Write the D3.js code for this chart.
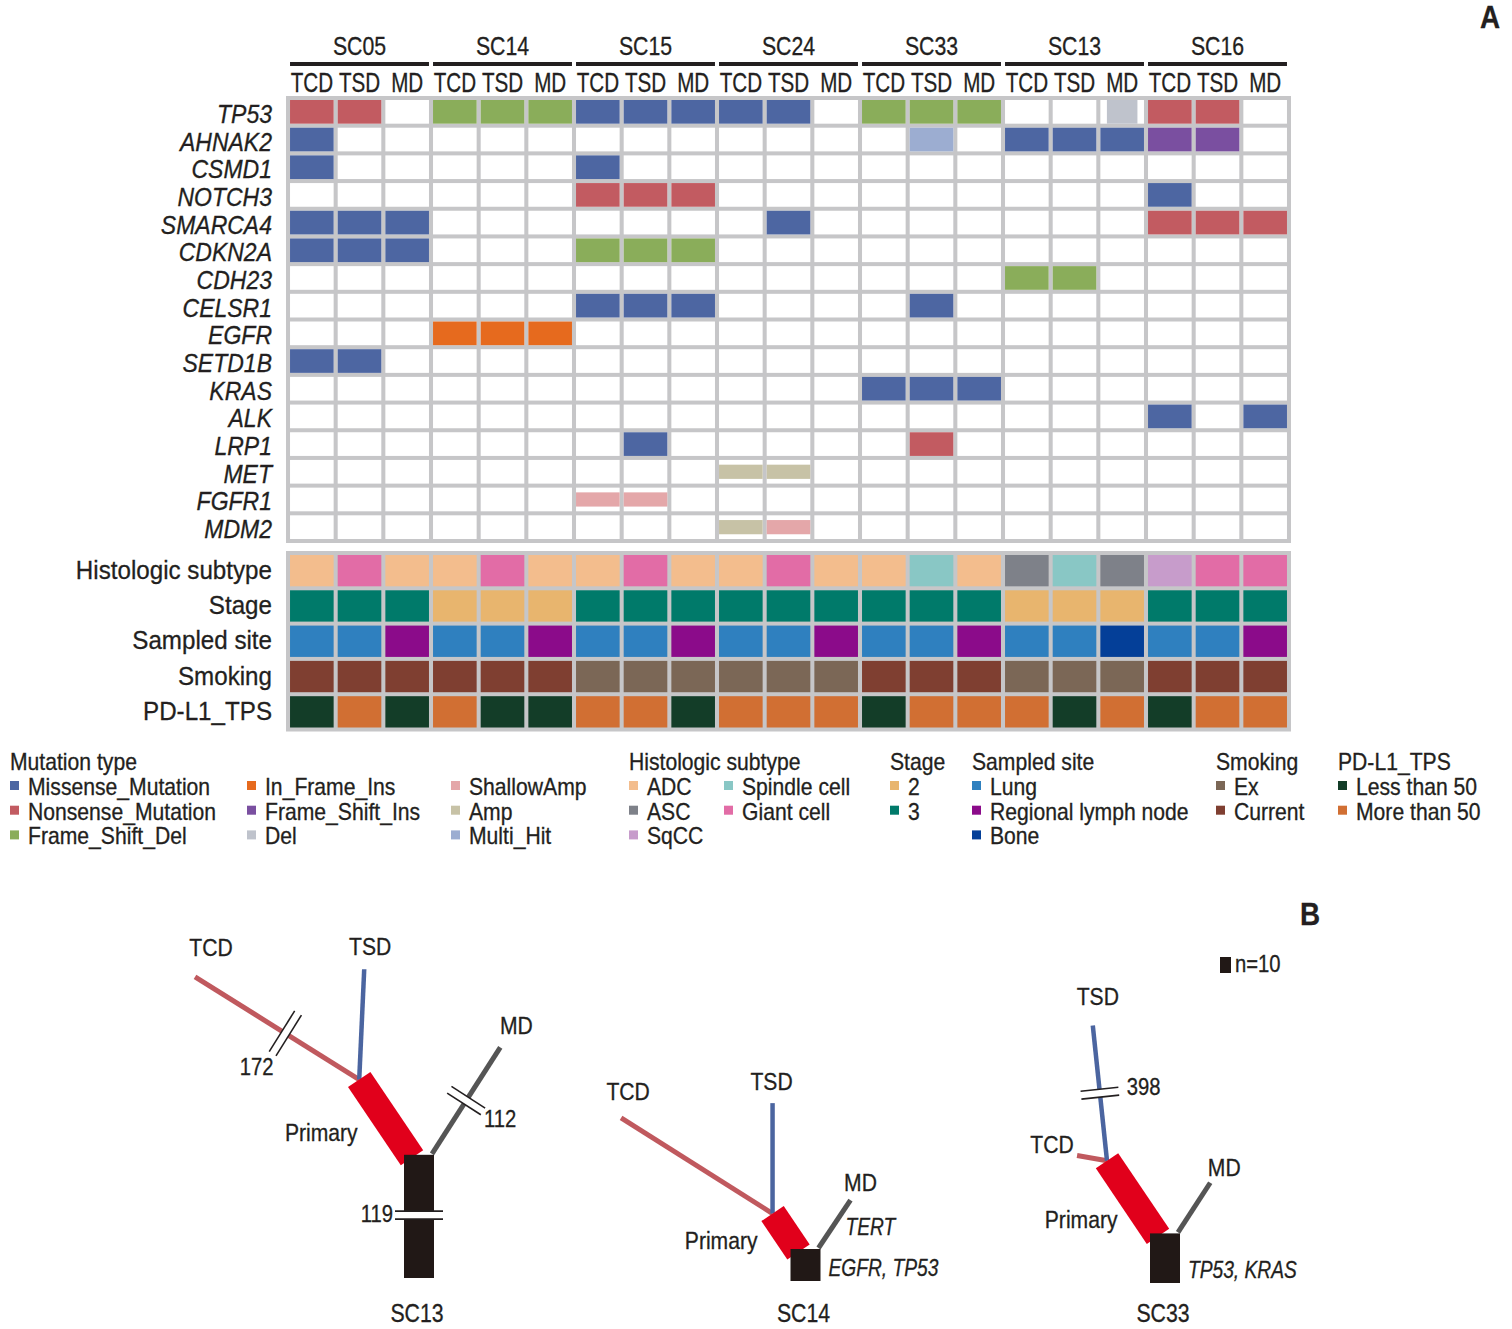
<!DOCTYPE html>
<html>
<head>
<meta charset="utf-8">
<script src="https://cdn.jsdelivr.net/npm/d3@7"></script>
<style>
body { margin: 0; background: #fff; }
svg text { font-family: "Liberation Sans", Arial, sans-serif; fill: #231f20; stroke: #231f20; stroke-width: 0.3px; }
</style>
</head>
<body>
<svg id="fig" width="1512" height="1329"></svg>
<script>
// ---- data ----
var patients = ["SC05", "SC14", "SC15", "SC24", "SC33", "SC13", "SC16"];
var regions = ["TCD", "TSD", "MD"];
var genes = ["TP53", "AHNAK2", "CSMD1", "NOTCH3", "SMARCA4", "CDKN2A", "CDH23", "CELSR1",
             "EGFR", "SETD1B", "KRAS", "ALK", "LRP1", "MET", "FGFR1", "MDM2"];

// mutation type codes
var mutCodes  = ["M", "N", "D", "I", "F", "X", "S", "A", "H"];
var mutTypes  = ["Missense_Mutation", "Nonsense_Mutation", "Frame_Shift_Del", "In_Frame_Ins",
                 "Frame_Shift_Ins", "Del", "ShallowAmp", "Amp", "Multi_Hit"];
var mutColors = ["#4d66a2", "#c25b61", "#8aad5a", "#e66a1e", "#7a4fa0", "#bfc3cc", "#e4a7a9", "#c7c2a6", "#9cadd1"];

// one string per gene, 21 samples: SC05 TCD TSD MD | SC14 ... | SC16   ("." = none)
var mutationCalls = [
  "N N .  D D D  M M M  M M .  D D D  . . X  N N .",   // TP53
  "M . .  . . .  . . .  . . .  . H .  M M M  F F .",   // AHNAK2
  "M . .  . . .  M . .  . . .  . . .  . . .  . . .",   // CSMD1
  ". . .  . . .  N N N  . . .  . . .  . . .  M . .",   // NOTCH3
  "M M M  . . .  . . .  . M .  . . .  . . .  N N N",   // SMARCA4
  "M M M  . . .  D D D  . . .  . . .  . . .  . . .",   // CDKN2A
  ". . .  . . .  . . .  . . .  . . .  D D .  . . .",   // CDH23
  ". . .  . . .  M M M  . . .  . M .  . . .  . . .",   // CELSR1
  ". . .  I I I  . . .  . . .  . . .  . . .  . . .",   // EGFR
  "M M .  . . .  . . .  . . .  . . .  . . .  . . .",   // SETD1B
  ". . .  . . .  . . .  . . .  M M M  . . .  . . .",   // KRAS
  ". . .  . . .  . . .  . . .  . . .  . . .  M . M",   // ALK
  ". . .  . . .  . M .  . . .  . N .  . . .  . . .",   // LRP1
  ". . .  . . .  . . .  A A .  . . .  . . .  . . .",   // MET
  ". . .  . . .  S S .  . . .  . . .  . . .  . . .",   // FGFR1
  ". . .  . . .  . . .  A S .  . . .  . . .  . . ."    // MDM2
];

var annoRows = ["Histologic subtype", "Stage", "Sampled site", "Smoking", "PD-L1_TPS"];

var histoTypes  = ["ADC", "ASC", "SqCC", "Spindle cell", "Giant cell"];
var histoColors = ["#f3bd8d", "#7e8189", "#c79ccb", "#89c7c5", "#e26ca6"];
var stageTypes  = ["2", "3"];
var stageColors = ["#e8b56e", "#007a6a"];
var siteTypes   = ["Lung", "Regional lymph node", "Bone"];
var siteColors  = ["#2f80bf", "#8b0b8a", "#043f98"];
var smokeTypes  = ["Ex", "Current"];
var smokeColors = ["#7b6756", "#7f3f31"];
var pdl1Types   = ["Less than 50", "More than 50"];
var pdl1Colors  = ["#133d28", "#d16f33"];

var histologic = ["ADC", "Giant cell", "ADC",  "ADC", "Giant cell", "ADC",  "ADC", "Giant cell", "ADC",
                  "ADC", "Giant cell", "ADC",  "ADC", "Spindle cell", "ADC",  "ASC", "Spindle cell", "ASC",
                  "SqCC", "Giant cell", "Giant cell"];
var stage   = ["3","3","3", "2","2","2", "3","3","3", "3","3","3", "3","3","3", "2","2","2", "3","3","3"];
var site    = ["Lung","Lung","Regional lymph node", "Lung","Lung","Regional lymph node",
               "Lung","Lung","Regional lymph node", "Lung","Lung","Regional lymph node",
               "Lung","Lung","Regional lymph node", "Lung","Lung","Bone",
               "Lung","Lung","Regional lymph node"];
var smoking = ["Current","Current","Current", "Current","Current","Current", "Ex","Ex","Ex",
               "Ex","Ex","Ex", "Current","Current","Current", "Ex","Ex","Ex", "Current","Current","Current"];
var pdl1    = ["Less than 50","More than 50","Less than 50", "More than 50","Less than 50","Less than 50",
               "More than 50","More than 50","Less than 50", "More than 50","More than 50","More than 50",
               "Less than 50","More than 50","More than 50", "More than 50","Less than 50","More than 50",
               "Less than 50","More than 50","More than 50"];

// phylogenetic trees (number of mutations per branch)
var trees     = ["SC13", "SC14", "SC33"];
var trunkN    = [119, 20, 31];
var primaryN  = [59, 29, 57];
var tcdN      = [172, 112, 19];
var tsdN      = [69, 69, 398];
var mdN       = [112, 36, 37];
// broken branches are drawn shorter: mutations shown (null = drawn to scale)
var trunkShownN = [77, null, null];
var tcdShownN   = [121, null, null];
var tsdShownN   = [null, null, 85];
var mdShownN    = [79, null, null];
var trunkGenes  = ["", "EGFR, TP53", "TP53, KRAS"];
var mdGenes     = ["", "TERT", ""];

// ---- drawing ----
var svg = d3.select("#fig");
var ink = "#231f20";
var gridGray = "#c6c6c8";

function label(g, x, y, str, o) {
  o = o || {};
  return g.append("text")
    .attr("transform", "translate(" + x + "," + y + ") scale(" + (o.sx || 0.88) + ",1)")
    .attr("text-anchor", o.anchor || "start")
    .style("font-size", (o.size || 24) + "px")
    .style("font-style", o.italic ? "italic" : null)
    .style("font-weight", o.bold ? "bold" : null)
    .text(str);
}

var samples = [];
patients.forEach(function(p) {
  regions.forEach(function(r) { samples.push(p + "_" + r); });
});

var x = d3.scaleBand().domain(samples).range([288, 1289]).paddingInner(0.085).paddingOuter(0.0425);
var yMut = d3.scaleBand().domain(genes).range([98, 541]).paddingInner(0.145).paddingOuter(0.0725);
var yAnno = d3.scaleBand().domain(annoRows).range([553, 729.5]).paddingInner(0.113).paddingOuter(0.0565);
var mutColor = d3.scaleOrdinal().domain(mutCodes).range(mutColors);

// panel label
label(svg, 1480, 28, "A", {size: 32, bold: true, sx: 0.87});

// patient headers
var head = svg.append("g");
patients.forEach(function(p) {
  var x0 = x(p + "_TCD"), x1 = x(p + "_MD") + x.bandwidth();
  label(head, (x0 + x1) / 2, 55, p, {size: 25, anchor: "middle", sx: 0.85});
  head.append("rect").attr("x", x0).attr("y", 62).attr("width", x1 - x0).attr("height", 4).attr("fill", ink);
  regions.forEach(function(r) {
    label(head, x(p + "_" + r) + x.bandwidth() / 2, 92, r, {size: 27.5, anchor: "middle", sx: 0.75});
  });
});

// mutation grid
var grid = svg.append("g");
grid.append("rect")
  .attr("x", x.range()[0] - 2).attr("y", yMut.range()[0] - 2)
  .attr("width", x.range()[1] - x.range()[0] + 4).attr("height", yMut.range()[1] - yMut.range()[0] + 4)
  .attr("fill", gridGray);

var cells = [];
genes.forEach(function(g, gi) {
  var calls = mutationCalls[gi].trim().split(/\s+/);
  samples.forEach(function(s, si) { cells.push({gene: g, sample: s, code: calls[si]}); });
});

grid.selectAll("rect.bg").data(cells).join("rect")
  .attr("class", "bg")
  .attr("x", function(d) { return x(d.sample); })
  .attr("y", function(d) { return yMut(d.gene); })
  .attr("width", x.bandwidth()).attr("height", yMut.bandwidth())
  .attr("fill", "#fff");

var bw = x.bandwidth(), bh = yMut.bandwidth();
function isAmp(c) { return c === "A" || c === "S"; }
grid.selectAll("rect.mut").data(cells.filter(function(d) { return d.code !== "."; })).join("rect")
  .attr("class", "mut")
  .attr("x", function(d) { return x(d.sample) + (d.code === "X" ? bw * 0.15 : 0); })
  .attr("y", function(d) { return yMut(d.gene) + (isAmp(d.code) ? bh * 0.2 : 0); })
  .attr("width", function(d) { return d.code === "X" ? bw * 0.7 : bw; })
  .attr("height", function(d) { return isAmp(d.code) ? bh * 0.6 : bh; })
  .attr("fill", function(d) { return mutColor(d.code); });

// gene labels
genes.forEach(function(g) {
  label(svg, 272, yMut(g) + bh / 2 + 11, g, {size: 25, italic: true, anchor: "end", sx: 0.92});
});

// annotation block
var anno = svg.append("g");
anno.append("rect")
  .attr("x", x.range()[0] - 2).attr("y", yAnno.range()[0] - 2)
  .attr("width", x.range()[1] - x.range()[0] + 4).attr("height", yAnno.range()[1] - yAnno.range()[0] + 4)
  .attr("fill", gridGray);

var annoValues = [histologic, stage, site, smoking, pdl1];
var annoScales = [
  d3.scaleOrdinal().domain(histoTypes).range(histoColors),
  d3.scaleOrdinal().domain(stageTypes).range(stageColors),
  d3.scaleOrdinal().domain(siteTypes).range(siteColors),
  d3.scaleOrdinal().domain(smokeTypes).range(smokeColors),
  d3.scaleOrdinal().domain(pdl1Types).range(pdl1Colors)
];
annoRows.forEach(function(row, ri) {
  anno.selectAll("rect.r" + ri).data(annoValues[ri]).join("rect")
    .attr("class", "r" + ri)
    .attr("x", function(d, i) { return x(samples[i]); })
    .attr("y", yAnno(row))
    .attr("width", bw).attr("height", yAnno.bandwidth())
    .attr("fill", function(d) { return annoScales[ri](d); });
  label(svg, 272, yAnno(row) + yAnno.bandwidth() / 2 + 8, row, {size: 26, anchor: "end", sx: 0.93});
});

// legends
var legends = [
  {title: "Mutation type", xs: [10, 247, 451], items: mutTypes, colors: mutColors},
  {title: "Histologic subtype", xs: [629, 724], items: histoTypes, colors: histoColors},
  {title: "Stage", xs: [890], items: stageTypes, colors: stageColors},
  {title: "Sampled site", xs: [972], items: siteTypes, colors: siteColors},
  {title: "Smoking", xs: [1216], items: smokeTypes, colors: smokeColors},
  {title: "PD-L1_TPS", xs: [1338], items: pdl1Types, colors: pdl1Colors}
];
var leg = svg.append("g");
legends.forEach(function(L) {
  label(leg, L.xs[0], 770, L.title, {size: 23, sx: 0.92});
  L.items.forEach(function(it, i) {
    var lx = L.xs[Math.floor(i / 3)], ly = 795 + (i % 3) * 24.7;
    leg.append("rect").attr("x", lx).attr("y", ly - 14).attr("width", 9).attr("height", 9).attr("fill", L.colors[i]);
    label(leg, lx + 18, ly, it, {size: 23, sx: 0.92});
  });
});

// ---- panel B: trees ----
var len = d3.scaleLinear().domain([0, 10]).range([0, 16]);
var rad = Math.PI / 180;
function dir(a) { return [Math.sin(a * rad), -Math.cos(a * rad)]; }
function along(p, a, l) { var d = dir(a); return [p[0] + d[0] * l, p[1] + d[1] * l]; }

var B = svg.append("g");
label(B, 1300, 925, "B", {size: 32, bold: true, sx: 0.87});
B.append("rect").attr("x", 1220).attr("y", 957).attr("width", 11).attr("height", len(10)).attr("fill", "#211816");
label(B, 1235, 972, "n=10", {size: 23, sx: 0.88});

var treeBase   = [[419, 1278], [805.5, 1281], [1165, 1283]];
var tcdAngle   = [-58, -57.7, -80];
var tsdAngle   = [2.6, 0, -6];
var mdAngle    = [32.7, 33.7, 33];
var primAngle  = -34;
var tcdLabOff  = [[16, -21], [7, -18], [-25, -3]];
var tsdLabOff  = [[6, -14], [-1, -13], [5, -21]];
var mdLabOff   = [[16, -13], [10, -9], [14, -7]];
var primLabOff = [[-28, 22], [-28, 16], [-15, 29]];

function branch(g, p0, a, l, color, w) {
  var p1 = along(p0, a, l);
  g.append("line").attr("x1", p0[0]).attr("y1", p0[1]).attr("x2", p1[0]).attr("y2", p1[1])
    .attr("stroke", color).attr("stroke-width", w);
  return p1;
}

// break mark: white gap crossed by two thin lines, with the true count beside it
function breakMark(g, p0, a, l, t, half, side, n, off, anchor) {
  var c = along(p0, a, l * t), u = dir(a), nv = dir(a + 90), gap = 4;
  function pt(su, sn) { return [c[0] + su * gap * u[0] + sn * half * nv[0], c[1] + su * gap * u[1] + sn * half * nv[1]]; }
  var pts = [pt(-1, -1), pt(1, -1), pt(1, 1), pt(-1, 1)];
  g.append("polygon").attr("points", pts.map(function(p) { return p.join(","); }).join(" ")).attr("fill", "#fff");
  [-1, 1].forEach(function(su) {
    var a0 = pt(su, -1), a1 = pt(su, 1);
    g.append("line").attr("x1", a0[0]).attr("y1", a0[1]).attr("x2", a1[0]).attr("y2", a1[1])
      .attr("stroke", ink).attr("stroke-width", 1.6);
  });
  var e = [c[0] + side * half * nv[0], c[1] + side * half * nv[1]];
  label(g, e[0] + off[0], e[1] + off[1], String(n), {size: 23, anchor: anchor, sx: 0.88});
}

trees.forEach(function(name, i) {
  var g = B.append("g");
  var base = treeBase[i];
  var trunkL = len(trunkShownN[i] || trunkN[i]);
  var top = [base[0], base[1] - trunkL];
  var ps = [top[0] - 7, top[1] + 3];
  var primL = len(primaryN[i]);
  var pe = along(ps, primAngle, primL);
  var ms = [top[0] + 13, top[1] - 1];

  var tcdL = len(tcdShownN[i] || tcdN[i]);
  var tsdL = len(tsdShownN[i] || tsdN[i]);
  var mdL  = len(mdShownN[i] || mdN[i]);
  var tcdEnd = branch(g, pe, tcdAngle[i], tcdL, "#c0595e", 5);
  var tsdEnd = branch(g, pe, tsdAngle[i], tsdL, "#4b65a0", 4.5);
  var mdEnd  = branch(g, ms, mdAngle[i], mdL, "#555555", 5);

  // primary (red) box
  var nv = dir(primAngle + 90), hw = 13.5;
  var poly = [[ps, 1], [pe, 1], [pe, -1], [ps, -1]].map(function(q) {
    return [q[0][0] + q[1] * hw * nv[0], q[0][1] + q[1] * hw * nv[1]].join(",");
  }).join(" ");
  g.append("polygon").attr("points", poly).attr("fill", "#e1001b");

  // trunk
  g.append("rect").attr("x", base[0] - 15).attr("y", top[1]).attr("width", 30).attr("height", trunkL).attr("fill", "#211816");

  // breaks
  if (trunkShownN[i]) breakMark(g, base, 0, trunkL, 0.51, 24, -1, trunkN[i], [-2, 7], "end");
  if (tcdShownN[i]) breakMark(g, pe, tcdAngle[i], tcdL, 0.45, 24, -1, tcdN[i], [1, 21], "end");
  if (tsdShownN[i]) breakMark(g, pe, tsdAngle[i], tsdL, 0.5, 19, 1, tsdN[i], [8, 4], "start");
  if (mdShownN[i]) breakMark(g, ms, mdAngle[i], mdL, 0.5, 20, 1, mdN[i], [1, 16], "start");

  // labels
  label(g, tcdEnd[0] + tcdLabOff[i][0], tcdEnd[1] + tcdLabOff[i][1], "TCD", {anchor: "middle"});
  label(g, tsdEnd[0] + tsdLabOff[i][0], tsdEnd[1] + tsdLabOff[i][1], "TSD", {anchor: "middle"});
  label(g, mdEnd[0] + mdLabOff[i][0], mdEnd[1] + mdLabOff[i][1], "MD", {anchor: "middle"});
  var pm = [(ps[0] + pe[0]) / 2, (ps[1] + pe[1]) / 2];
  label(g, pm[0] + primLabOff[i][0], pm[1] + primLabOff[i][1], "Primary", {anchor: "end"});
  if (trunkGenes[i]) label(g, base[0] + 23, base[1] - 5, trunkGenes[i], {italic: true, sx: 0.8});
  if (mdGenes[i]) {
    var mm = [(ms[0] + mdEnd[0]) / 2, (ms[1] + mdEnd[1]) / 2];
    label(g, mm[0] + 11, mm[1] + 11, mdGenes[i], {italic: true, sx: 0.8});
  }
  label(g, base[0] - 2, 1322, name, {size: 25, anchor: "middle", sx: 0.85});
});
</script>
</body>
</html>
